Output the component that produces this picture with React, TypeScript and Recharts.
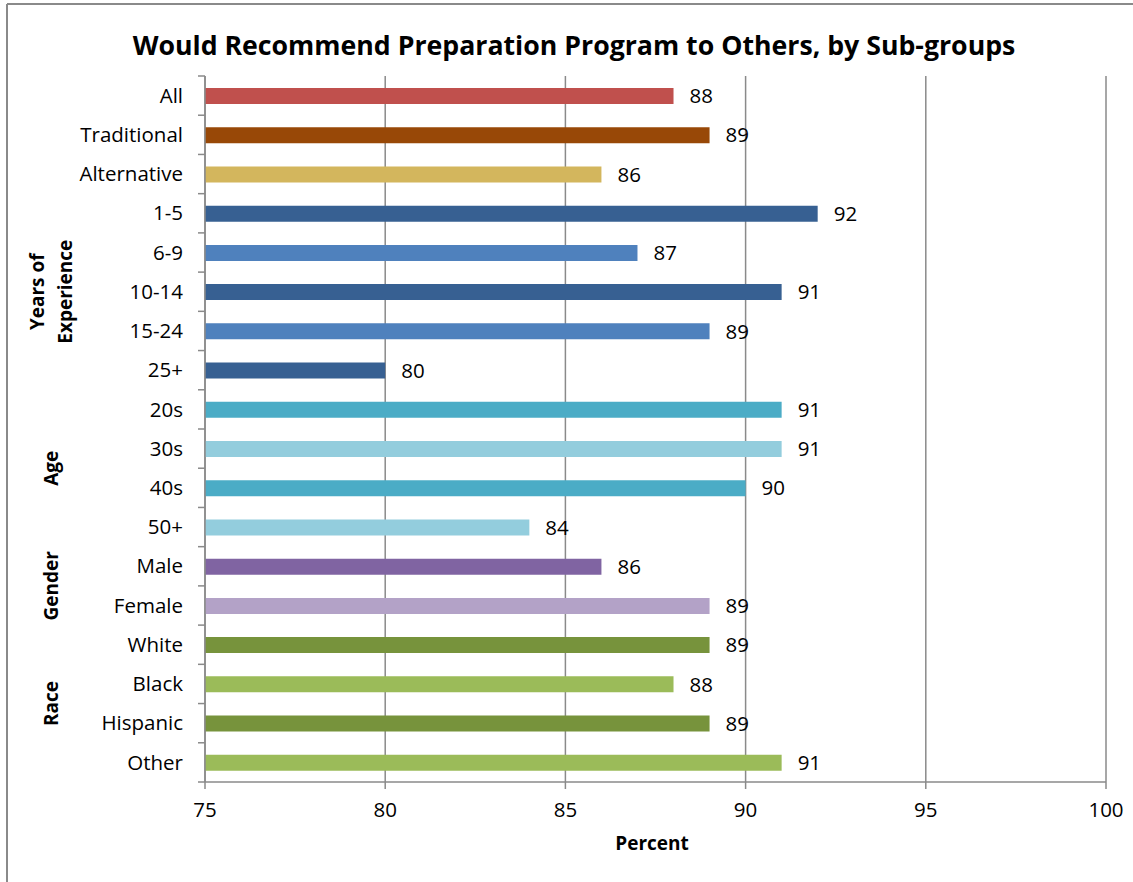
import React from "react";
import { BarChart, Bar, XAxis, YAxis, CartesianGrid, Cell, LabelList } from "recharts";

const categories = ["All", "Traditional", "Alternative", "1-5", "6-9", "10-14", "15-24", "25+", "20s", "30s", "40s", "50+", "Male", "Female", "White", "Black", "Hispanic", "Other"];
const values = [88, 89, 86, 92, 87, 91, 89, 80, 91, 91, 90, 84, 86, 89, 89, 88, 89, 91];
const colors = ["#C0504D", "#984807", "#D3B65D", "#376092", "#4F81BD", "#376092", "#4F81BD", "#376092", "#4BACC6", "#93CDDD", "#4BACC6", "#93CDDD", "#8064A2", "#B3A2C7", "#77933C", "#9BBB59", "#77933C", "#9BBB59"];
const xTicks = [75, 80, 85, 90, 95, 100];
const groups = [
  { lines: ["Years of", "Experience"], from: 3, to: 7 },
  { lines: ["Age"], from: 8, to: 11 },
  { lines: ["Gender"], from: 12, to: 13 },
  { lines: ["Race"], from: 14, to: 17 },
];
const title = "Would Recommend Preparation Program to Others, by Sub-groups";
const xLabel = "Percent";

const data = categories.map((c, i) => ({ name: c, value: values[i] }));

const W = 1133;
const H = 882;
const PLOT_LEFT = 205;
const PLOT_RIGHT = 1106;
const PLOT_TOP = 76;
const PLOT_BOTTOM = 782;
const BAND = (PLOT_BOTTOM - PLOT_TOP) / categories.length;
const FONT = "'Open Sans', Lato, sans-serif";
const GRID = "#8a8a8a";
const FS = 20.5;

const CategoryTick = (props: any) => {
  const { y, payload, index } = props;
  const half = BAND / 2;
  return (
    <g>
      <text x={PLOT_LEFT - 22} y={y} dy="0.35em" textAnchor="end" fontSize={FS} fontFamily={FONT} fill="#000">
        {payload.value}
      </text>
      <line x1={PLOT_LEFT - 7} x2={PLOT_LEFT} y1={y - half} y2={y - half} stroke={GRID} strokeWidth={1.5} />
      {index === categories.length - 1 && (
        <line x1={PLOT_LEFT - 7} x2={PLOT_LEFT} y1={y + half} y2={y + half} stroke={GRID} strokeWidth={1.5} />
      )}
    </g>
  );
};

export default function App() {
  return (
    <div style={{ position: "absolute", left: 0, top: 0, width: W, height: H, background: "#fff", overflow: "hidden" }}>
      <BarChart
        width={W}
        height={H}
        data={data}
        layout="vertical"
        margin={{ top: PLOT_TOP, right: W - PLOT_RIGHT, bottom: 0, left: 0 }}
        barCategoryGap={0}
      >
        <CartesianGrid horizontal={false} vertical={true} stroke={GRID} strokeWidth={1.5} />
        <XAxis
          type="number"
          domain={[75, 100]}
          ticks={xTicks}
          interval={0}
          stroke={GRID}
          strokeWidth={1.5}
          tickSize={7}
          tickMargin={13}
          tick={{ fontSize: FS, fill: "#000", fontFamily: FONT }}
          height={H - PLOT_BOTTOM}
        />
        <YAxis
          type="category"
          dataKey="name"
          width={PLOT_LEFT}
          stroke={GRID}
          strokeWidth={1.5}
          tickLine={false}
          interval={0}
          tick={<CategoryTick />}
        />
        <Bar dataKey="value" barSize={16} isAnimationActive={false}>
          {data.map((d, i) => (
            <Cell key={d.name} fill={colors[i]} />
          ))}
          <LabelList dataKey="value" position="right" offset={16} fontSize={FS} fill="#000" fontFamily={FONT} />
        </Bar>
      </BarChart>
      <svg width={W} height={H} style={{ position: "absolute", left: 0, top: 0, pointerEvents: "none" }}>
        <line x1={7} y1={4} x2={W} y2={4} stroke={GRID} strokeWidth={2} />
        <line x1={7} y1={4} x2={7} y2={H} stroke={GRID} strokeWidth={2} />
        <text x={574} y={46} dy="0.35em" textAnchor="middle" fontSize={26.7} fontWeight="bold" fontFamily={FONT} fill="#000">
          {title}
        </text>
        <text x={652} y={843} dy="0.35em" textAnchor="middle" fontSize={19} fontWeight="bold" fontFamily={FONT} fill="#000">
          {xLabel}
        </text>
        {groups.map((g) => {
          const cy = PLOT_TOP + BAND * ((g.from + g.to + 1) / 2);
          const n = g.lines.length;
          return (
            <g key={g.lines.join(" ")}>
              {g.lines.map((ln, j) => {
                const cx = 51 + (j - (n - 1) / 2) * 28;
                return (
                  <text
                    key={ln}
                    x={cx}
                    y={cy}
                    dy="0.35em"
                    textAnchor="middle"
                    fontSize={19}
                    fontWeight="bold"
                    fontFamily={FONT}
                    fill="#000"
                    transform={`rotate(-90 ${cx} ${cy})`}
                  >
                    {ln}
                  </text>
                );
              })}
            </g>
          );
        })}
      </svg>
    </div>
  );
}
